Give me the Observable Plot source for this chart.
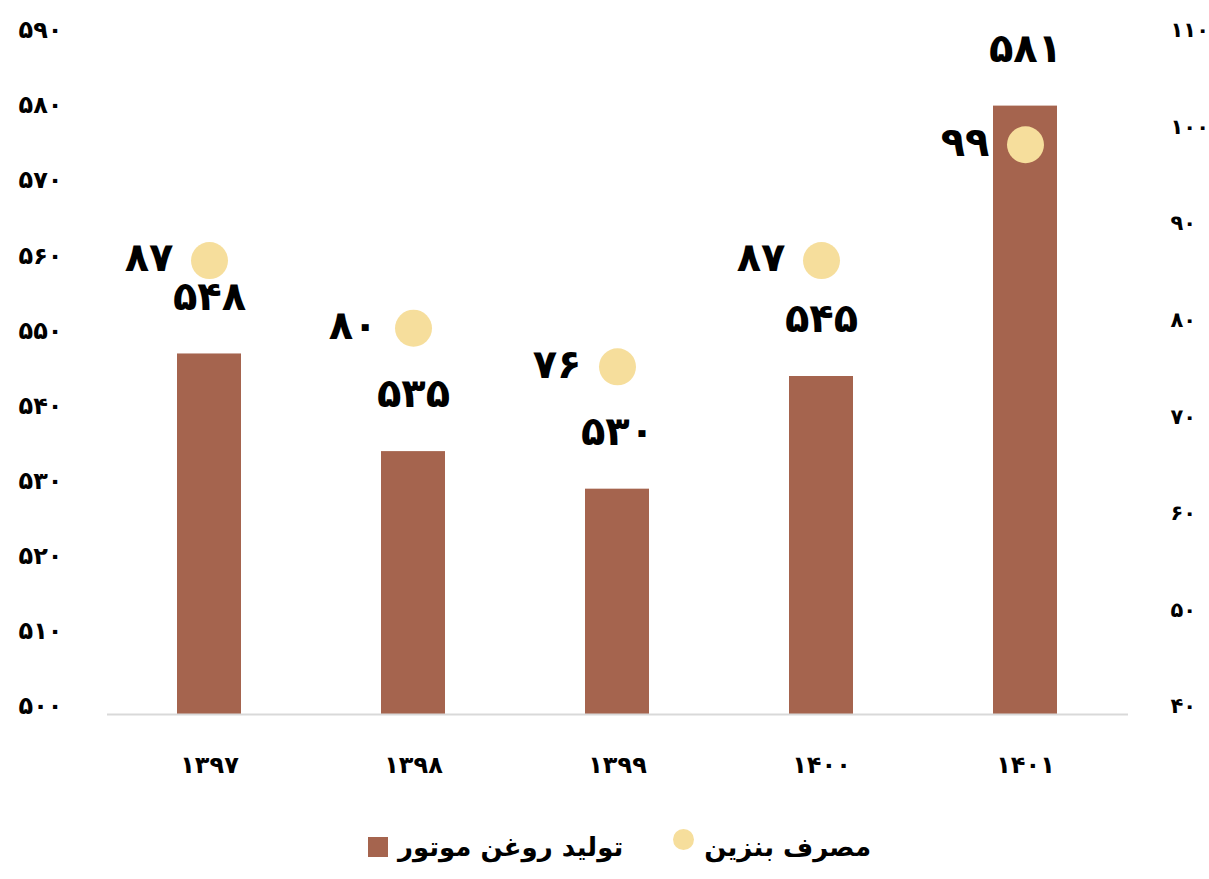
<!DOCTYPE html>
<html lang="fa">
<head>
<meta charset="utf-8">
<script src="https://cdn.jsdelivr.net/npm/d3@7"></script>
<script src="https://cdn.jsdelivr.net/npm/@observablehq/plot@0.6"></script>
<style>
  html, body { margin: 0; padding: 0; background: #ffffff; }
  body { width: 1209px; height: 879px; position: relative; overflow: hidden;
         font-family: "DejaVu Sans", "Noto Sans", sans-serif; }
  #chart { position: absolute; left: 0; top: 0; }
  #legend { position: absolute; top: 822px; left: 0; width: 1209px; height: 50px;
            display: flex; justify-content: center; align-items: center; direction: ltr;
            padding-left: 30px; box-sizing: border-box;
            font-family: "DejaVu Sans", sans-serif; font-weight: bold; font-size: 26px; color: #000; }
  .sw { display: inline-block; width: 20px; height: 20px; background: #a5644e; margin-right: 10px; }
  .dt { display: inline-block; width: 21px; height: 21px; border-radius: 50%; background: #f6de9c;
        margin-left: 50px; margin-right: 10px; position: relative; top: -8px; }
</style>
</head>
<body>
<div id="chart"></div>
<div id="legend"></div>
<script>
// ---- data ----
const years = ["1397", "1398", "1399", "1400", "1401"];
const oilProduction = [548, 535, 530, 545, 581];   // تولید روغن موتور (left axis)
const gasolineUse = [87, 80, 76, 87, 99];          // مصرف بنزین (right axis)
const leftTicks = [500, 510, 520, 530, 540, 550, 560, 570, 580, 590];
const rightTicks = [40, 50, 60, 70, 80, 90, 100, 110];
const seriesNames = ["تولید روغن موتور", "مصرف بنزین"];

// ---- helpers ----
const faDigits = "۰۱۲۳۴۵۶۷۸۹";
const fa = v => String(v).replace(/[0-9]/g, c => faDigits[+c]);

const data = years.map((y, i) => ({year: y, oil: oilProduction[i], gas: gasolineUse[i]}));
const y2 = d3.scaleLinear([40, 110], [500, 590]);

const barColor = "#a5644e";
const dotColor = "#f6de9c";
const font = "DejaVu Sans, sans-serif";

const chart = Plot.plot({
  width: 1209,
  height: 800,
  marginLeft: 107,
  marginRight: 81,
  marginTop: 38,
  marginBottom: 86,
  style: {background: "transparent", fontFamily: font, color: "#000"},
  x: {domain: years, paddingInner: 0.686, paddingOuter: 0.343},
  y: {domain: [500, 590]},
  marks: [
    Plot.axisY(leftTicks, {anchor: "left", tickSize: 0, tickPadding: 45, fontSize: 24, fontWeight: "bold",
      tickFormat: d => fa(d), dy: -8, label: null}),
    Plot.axisY(rightTicks.map(v => y2(v)), {anchor: "right", tickSize: 0, tickPadding: 42, fontSize: 21,
      fontWeight: "bold", tickFormat: d => fa(Math.round(y2.invert(d))), dy: -8, label: null}),
    Plot.axisX({tickSize: 0, tickPadding: 41, fontSize: 24, fontWeight: "bold", tickFormat: d => fa(d), label: null}),
    Plot.barY(data, {x: "year", y1: () => 500, y2: "oil", fill: barColor}),
    Plot.ruleY([500], {stroke: "#d9d9d9", strokeWidth: 2}),
    Plot.dot(data, {x: "year", y: d => y2(d.gas), r: 18.5, fill: dotColor}),
    Plot.text(data, {x: "year", y: "oil", text: d => fa(d.oil), dy: -57, fontSize: 40, fontWeight: "bold",
      fill: "#000", fontFamily: font}),
    Plot.text(data, {x: "year", y: d => y2(d.gas), text: d => fa(d.gas), dx: -36, textAnchor: "end",
      dy: -2, fontSize: 40, fontWeight: "bold", fill: "#000", fontFamily: font})
  ]
});
document.getElementById("chart").appendChild(chart);

// legend
const lg = document.getElementById("legend");
lg.innerHTML = `<span class="sw"></span><span>${seriesNames[0]}</span><span class="dt"></span><span>${seriesNames[1]}</span>`;
</script>
</body>
</html>
